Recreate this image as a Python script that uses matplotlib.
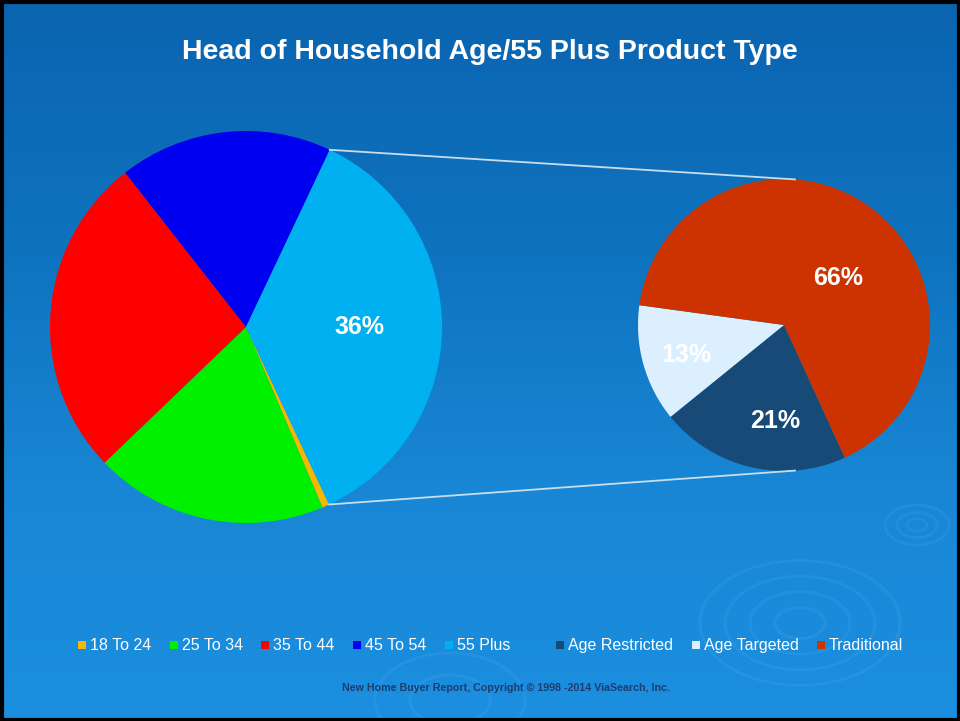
import numpy as np
import matplotlib
matplotlib.use("Agg")
import matplotlib.pyplot as plt
from matplotlib.patches import Rectangle, Ellipse
from matplotlib.colors import LinearSegmentedColormap

plt.rcParams['font.family'] = ['Liberation Sans', 'DejaVu Sans']

title = "Head of Household Age/55 Plus Product Type"
age_groups = ["18 To 24", "25 To 34", "35 To 44", "45 To 54", "55 Plus"]
age_values = [0.6, 19.2, 26.6, 17.6, 36.0]
age_labels = ["", "", "", "", "36%"]
age_colors = ["#f5b800", "#00f000", "#ff0000", "#0000f0", "#00b0f0"]

product_types = ["Age Restricted", "Age Targeted", "Traditional"]
product_values = [21, 13, 66]
product_labels = ["21%", "13%", "66%"]
product_colors = ["#184a78", "#dcefff", "#cc3300"]

footer = "New Home Buyer Report, Copyright \u00a9 1998 -2014 ViaSearch, Inc."

W, H = 960, 721
fig = plt.figure(figsize=(W / 100, H / 100), dpi=100)
ax = fig.add_axes([0, 0, 1, 1])

# background gradient
cmap = LinearSegmentedColormap.from_list('bg', ['#0b64b0', '#0e72be', '#1886d4', '#1c8fe0'])
grad = np.linspace(1, 0, 256).reshape(-1, 1)
ax.imshow(grad, extent=[0, W, 0, H], aspect='auto', cmap=cmap, origin='lower', zorder=0)

# faint ripple decoration
for cx, cy, rxs in [(800, H - 623, [25, 50, 75, 100]), (917, H - 525, [10, 20, 32]),
                    (450, H - 700, [40, 75])]:
    for rx in rxs:
        ax.add_patch(Ellipse((cx, cy), 2 * rx, 1.25 * rx, fill=False, ec='#6cc0f5',
                             lw=2, alpha=0.13, zorder=1))

# left pie
lc = (246, H - 327)
lr = 196
wl, _ = ax.pie(age_values, colors=age_colors, startangle=-64.9, counterclock=False,
               center=lc, radius=lr, wedgeprops=dict(linewidth=0), frame=True)
for w, lab in zip(wl, age_labels):
    if lab:
        a = np.deg2rad((w.theta1 + w.theta2) / 2)
        ax.text(lc[0] + 0.58 * lr * np.cos(a), lc[1] + 0.58 * lr * np.sin(a), lab,
                color='white', fontsize=18, fontweight='bold', ha='center', va='center', zorder=5)

# right pie
rc = (784, H - 325)
rr = 146
wr, _ = ax.pie(product_values, colors=product_colors, startangle=-65.4, counterclock=False,
               center=rc, radius=rr, wedgeprops=dict(linewidth=0), frame=True)
offs = {"66%": (0.49, 41), "21%": (0.66, -95), "13%": (0.70, -163)}
for w, lab in zip(wr, product_labels):
    d, ang = offs[lab]
    a = np.deg2rad(ang)
    ax.text(rc[0] + d * rr * np.cos(a), rc[1] + d * rr * np.sin(a), lab,
            color='white', fontsize=18, fontweight='bold', ha='center', va='center', zorder=5)

ax.set_xlim(0, W)
ax.set_ylim(0, H)
ax.set_aspect('auto')
ax.axis('off')

# connector lines from 55 Plus wedge edges to right pie
w55 = wl[-1]
top_ang = max(w55.theta1, w55.theta2)
bot_ang = min(w55.theta1, w55.theta2)
for ang_l, ang_r in [(top_ang, 85.7), (bot_ang, -85.7)]:
    al = np.deg2rad(ang_l)
    ar = np.deg2rad(ang_r)
    ax.plot([lc[0] + lr * np.cos(al), rc[0] + rr * np.cos(ar)],
            [lc[1] + lr * np.sin(al), rc[1] + rr * np.sin(ar)],
            color='#c8ddec', lw=1.3, zorder=4)

# border
ax.add_patch(plt.Rectangle((1.5, 1.5), W - 3, H - 3, fill=False, ec='black', lw=3, zorder=10))

# title
ax.text(490, H - 52, title, color='white', fontsize=20.5, fontweight='bold',
        ha='center', va='center', zorder=5)

# legends (drawn row-wise with a common baseline)
renderer = fig.canvas.get_renderer()
base_y = H - 650
sq = 8


def draw_legend(x, names, colors):
    for name, col in zip(names, colors):
        ax.add_patch(Rectangle((x, base_y + 1), sq, sq, facecolor=col, edgecolor='none', zorder=5))
        t = ax.text(x + sq + 4, base_y, name, color='white', fontsize=11.5,
                    ha='left', va='baseline', zorder=5)
        wpx = t.get_window_extent(renderer=renderer).width
        x = x + sq + 4 + wpx + 18.5


draw_legend(78, age_groups, age_colors)
draw_legend(556, product_types, product_colors)

# footer
ax.text(506, H - 688, footer, color='#1e3c6e', fontsize=7.7, fontweight='bold',
        ha='center', va='center', zorder=5)

fig.savefig('out.png', dpi=100)
